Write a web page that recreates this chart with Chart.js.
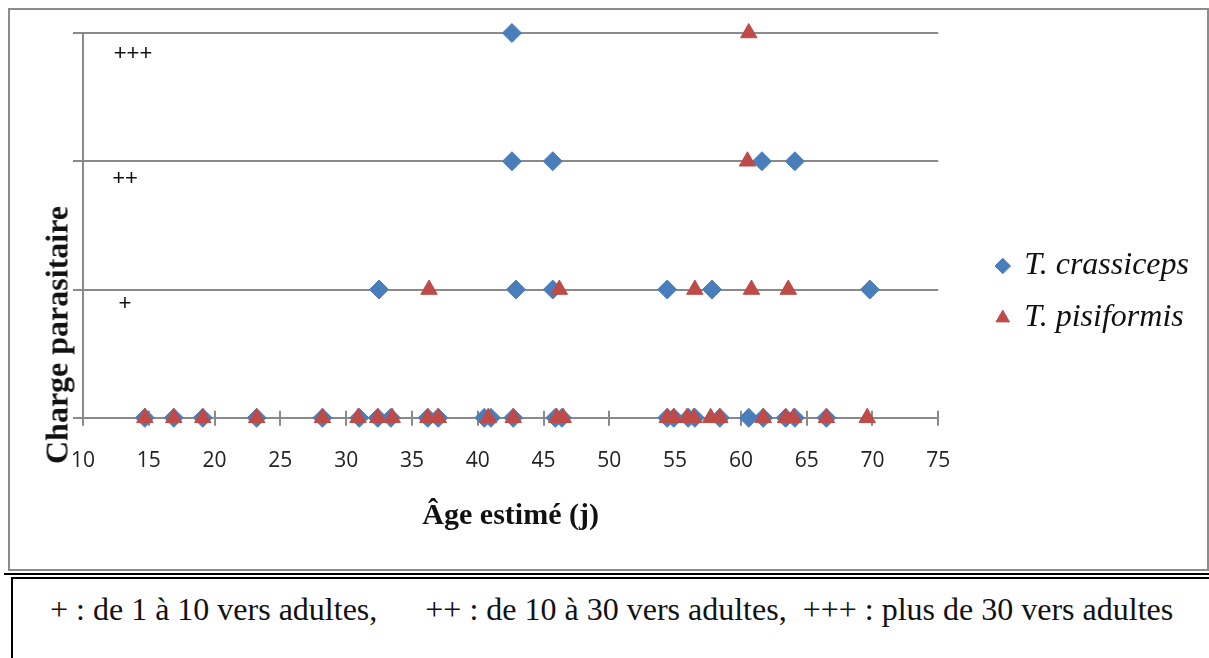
<!DOCTYPE html>
<html lang="fr">
<head>
<meta charset="utf-8">
<title>Charge parasitaire selon l'âge</title>
<script src="https://cdn.jsdelivr.net/npm/chart.js"></script>
<style>
  body { margin: 0; background: #fff; width: 1209px; height: 658px; position: relative; overflow: hidden; }
  .frame { position: absolute; left: 8px; top: 8px; width: 1197px; height: 559px; border: 2px solid #8c8c8c; }
  .frame canvas { position: absolute; left: 0; top: 0; }
  .ytitle { position: absolute; left: 57px; top: 335px; transform: translate(-50%, -50%) rotate(-90deg);
            font: bold 32px "Liberation Serif"; white-space: nowrap; color: #111; }
  .rule { position: absolute; left: 4px; top: 573px; width: 1205px; height: 2px; background: #000; }
  .note { position: absolute; left: 11px; top: 577px; right: 0; bottom: 0; border-left: 2px solid #000; border-top: 2px solid #000;
          font: 32px "Liberation Serif"; white-space: pre; padding: 12px 0 0 37px; color: #111; }
</style>
</head>
<body>
  <div class="frame"><canvas id="chart" width="1197" height="559"></canvas></div>
  <div class="ytitle">Charge parasitaire</div>
  <div class="rule"></div>
  <div class="note">+ : de 1 à 10 vers adultes,      ++ : de 10 à 30 vers adultes,  +++ : plus de 30 vers adultes</div>

<script>
  // charge levels: 0 = none, 1 = +, 2 = ++, 3 = +++
  const loadLabels = ['+', '++', '+++'];

  // ages (days) per charge level, index = level
  const crassicepsAges = [
    [14.7, 16.9, 19.1, 23.2, 28.2, 31.0, 32.4, 33.4, 36.2, 37.0, 40.5, 41.0, 42.7, 45.9, 46.4,
     54.4, 54.9, 56.0, 56.5, 58.4, 60.6, 61.7, 63.4, 64.1, 66.5],
    [32.5, 42.9, 45.7, 54.4, 57.8, 69.8],
    [42.6, 45.7, 61.6, 64.1],
    [42.6]
  ];
  const pisiformisAges = [
    [14.7, 16.9, 19.1, 23.2, 28.2, 30.9, 32.4, 33.5, 36.2, 37.0, 40.8, 42.7, 46.0, 46.5,
     54.4, 54.9, 55.9, 56.4, 57.7, 58.4, 61.7, 63.4, 64.0, 66.5, 69.6],
    [36.3, 46.2, 56.5, 60.8, 63.6],
    [60.5],
    [60.6]
  ];

  function toPoints(byLevel) {
    const pts = [];
    byLevel.forEach((ages, level) => ages.forEach(a => pts.push({ x: a, y: level })));
    return pts;
  }

  // tick marks crossing the x axis + the "+" labels inside the plot
  const plotMarks = {
    id: 'plotMarks',
    beforeDatasetsDraw(chart) {
      const { ctx, scales: { x, y } } = chart;
      const y0 = y.getPixelForValue(0);
      ctx.save();
      ctx.strokeStyle = '#8a8a8a';
      ctx.lineWidth = 2;
      x.ticks.forEach(t => {
        const px = Math.round(x.getPixelForValue(t.value));
        ctx.beginPath();
        ctx.moveTo(px, y0 - 7);
        ctx.lineTo(px, y0 + 8);
        ctx.stroke();
      });
      const offs = [[42, 14], [42, 18], [50, 21]];
      ctx.fillStyle = '#111';
      ctx.font = '22px "Liberation Sans"';
      ctx.textAlign = 'center';
      ctx.textBaseline = 'middle';
      loadLabels.forEach((txt, i) => {
        ctx.fillText(txt, chart.chartArea.left + offs[i][0], y.getPixelForValue(i + 1) + offs[i][1]);
      });
      ctx.restore();
    }
  };

  const grey = '#8a8a8a';
  new Chart(document.getElementById('chart'), {
    type: 'scatter',
    data: {
      datasets: [
        {
          label: 'T. crassiceps',
          data: toPoints(crassicepsAges),
          pointStyle: 'rectRot',
          pointRadius: 9.5,
          backgroundColor: '#4a7ebb',
          borderColor: '#4a7ebb',
          borderWidth: 1,
          order: 2,
          clip: false
        },
        {
          label: 'T. pisiformis',
          data: toPoints(pisiformisAges),
          pointStyle: 'triangle',
          pointRadius: 9.5,
          backgroundColor: '#be4b48',
          borderColor: '#be4b48',
          borderWidth: 1,
          order: 1,
          clip: false
        }
      ]
    },
    options: {
      responsive: false,
      animation: false,
      layout: { padding: { top: 23, left: 63, right: 8, bottom: 35 } },
      scales: {
        x: {
          type: 'linear', min: 10, max: 75,
          ticks: { stepSize: 5, padding: 0, color: '#222', font: { family: 'Open Sans', size: 21 } },
          grid: { display: false, drawTicks: true, tickLength: 31 },
          border: { display: true, color: grey, width: 2 },
          title: {
            display: true, text: 'Âge estimé (j)', color: '#111',
            font: { family: 'Liberation Serif', size: 30, weight: 'bold' },
            padding: { top: 24, bottom: 0 }
          }
        },
        y: {
          min: 0, max: 3,
          ticks: { stepSize: 1, display: false },
          grid: { color: grey, lineWidth: 2, tickLength: 10 },
          border: { color: grey, width: 2 }
        },
        // invisible spacer between the plot and the legend
        gap: {
          type: 'linear', axis: 'y', position: 'right', display: false,
          afterFit(s) { s.width = 39; }
        }
      },
      plugins: {
        legend: {
          position: 'right',
          title: { display: true, text: '', font: { size: 10, lineHeight: 1 }, padding: { top: 7, bottom: 0 } },
          labels: {
            usePointStyle: true,
            boxWidth: 11,
            boxHeight: 11,
            padding: 20,
            color: '#111',
            font: { family: 'Liberation Serif', size: 32, style: 'italic' },
            sort: (a, b) => a.datasetIndex - b.datasetIndex
          }
        },
        tooltip: { enabled: false }
      }
    },
    plugins: [plotMarks]
  });
</script>
</body>
</html>
